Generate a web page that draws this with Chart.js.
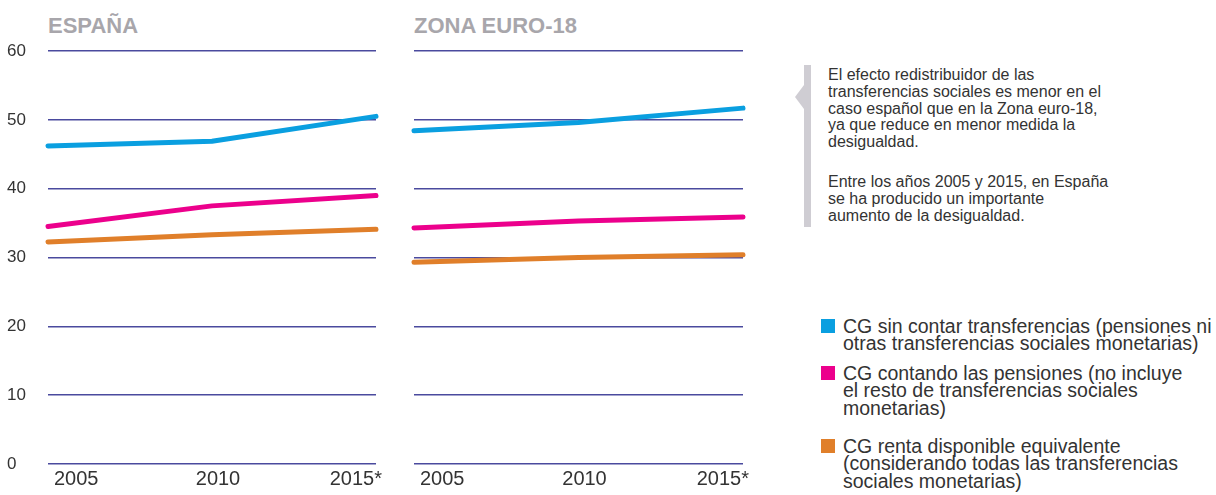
<!DOCTYPE html>
<html>
<head>
<meta charset="utf-8">
<script src="https://cdn.jsdelivr.net/npm/chart.js@4.4.1/dist/chart.umd.min.js"></script>
<style>
    body { margin: 0; width: 1216px; height: 495px; background: #fff; position: relative; overflow: hidden;
           font-family: "Liberation Sans", Arial, sans-serif; color: #333; }
    .box { position: absolute; top: 0; height: 495px; }
    .title { position: absolute; top: 15px; font-weight: bold; font-size: 22px; line-height: 22px; color: #a8a6ab; }
    .note { position: absolute; left: 828px; font-size: 16px; line-height: 16.8px; white-space: nowrap; color: #333; }
    .bar { position: absolute; left: 804px; top: 65px; width: 7px; height: 162px; background: #cfcdd3; }
    .arrow { position: absolute; left: 795px; top: 85px; width: 0; height: 0;
             border-top: 12px solid transparent; border-bottom: 12px solid transparent; border-right: 9px solid #cfcdd3; }
    .leg { position: absolute; left: 843px; font-size: 19.5px; line-height: 17.3px; white-space: nowrap; color: #333; }
    .sq { position: absolute; left: 821px; width: 14px; height: 14px; }
</style>
</head>
<body>
<div class="title" style="left:48px">ESPAÑA</div>
<div class="title" style="left:414px">ZONA EURO-18</div>
<div class="box" style="left:0; width:388px"><canvas id="esp"></canvas></div>
<div class="box" style="left:400px; width:356px"><canvas id="euro"></canvas></div>

<div class="bar"></div>
<div class="arrow"></div>
<div class="note" style="top:67px">El efecto redistribuidor de las<br>transferencias sociales es menor en el<br>caso español que en la Zona euro-18,<br>ya que reduce en menor medida la<br>desigualdad.</div>
<div class="note" style="top:174px">Entre los años 2005 y 2015, en España<br>se ha producido un importante<br>aumento de la desigualdad.</div>
<div id="legend"></div>

<script>
const years = ["2005", "2010", "2015*"];
const yTicks = [0, 10, 20, 30, 40, 50, 60];

const espSinTransf = [46.2, 46.9, 50.5];
const espPensiones = [34.5, 37.5, 39.0];
const espRenta = [32.25, 33.3, 34.1];

const euroSinTransf = [48.4, 49.6, 51.7];
const euroPensiones = [34.3, 35.3, 35.9];
const euroRenta = [29.3, 30.0, 30.4];

const seriesLabels = [
    ["CG sin contar transferencias (pensiones ni", "otras transferencias sociales monetarias)"],
    ["CG contando las pensiones (no incluye", "el resto de transferencias sociales", "monetarias)"],
    ["CG renta disponible equivalente", "(considerando todas las transferencias", "sociales monetarias)"]
];
const seriesColors = ["#0a9fe0", "#ec008c", "#e07f2a"];

// legend (html, to the right)
const legendTops = [318, 365, 438];
const legendEl = document.getElementById("legend");
seriesLabels.forEach((lines, i) => {
    const sq = document.createElement("div");
    sq.className = "sq";
    sq.style.top = (legendTops[i] + 1) + "px";
    sq.style.background = seriesColors[i];
    legendEl.appendChild(sq);
    const txt = document.createElement("div");
    txt.className = "leg";
    txt.style.top = legendTops[i] + "px";
    txt.innerHTML = lines.join("<br>");
    legendEl.appendChild(txt);
});

function makeChart(id, series, showLabels, pad) {
    const ctx = document.getElementById(id).getContext("2d");
    return new Chart(ctx, {
        type: "line",
        data: {
            labels: years,
            datasets: series.map((s, i) => ({
                data: s,
                borderColor: seriesColors[i],
                borderWidth: 5,
                borderCapStyle: "round",
                borderJoinStyle: "round",
                pointRadius: 0,
                tension: 0,
                fill: false,
                clip: false
            }))
        },
        options: {
            responsive: true,
            maintainAspectRatio: false,
            animation: false,
            layout: { padding: pad },
            plugins: { legend: { display: false }, tooltip: { enabled: false } },
            scales: {
                x: {
                    grid: { display: false, drawTicks: false },
                    border: { display: false },
                    ticks: {
                        align: "inner",
                        labelOffset: 6,
                        padding: 3,
                        color: "#333",
                        font: { family: "Liberation Sans", size: 20 },
                        maxRotation: 0
                    },
                    afterFit: (scale) => { scale.height = 31; }
                },
                y: {
                    min: yTicks[0],
                    max: yTicks[yTicks.length - 1],
                    grid: { color: "#4a4a9e", lineWidth: 1.5, drawTicks: false },
                    border: { display: false },
                    ticks: {
                        display: showLabels,
                        stepSize: yTicks[1] - yTicks[0],
                        crossAlign: "far",
                        color: "#333",
                        font: { family: "Liberation Sans", size: 17 }
                    },
                    afterFit: (scale) => { scale.width = showLabels ? 41 : 0; }
                }
            }
        }
    });
}

makeChart("esp", [espSinTransf, espPensiones, espRenta], true, { left: 7, right: 12, top: 51, bottom: 0 });
makeChart("euro", [euroSinTransf, euroPensiones, euroRenta], false, { left: 14, right: 13, top: 51, bottom: 0 });
</script>
</body>
</html>
